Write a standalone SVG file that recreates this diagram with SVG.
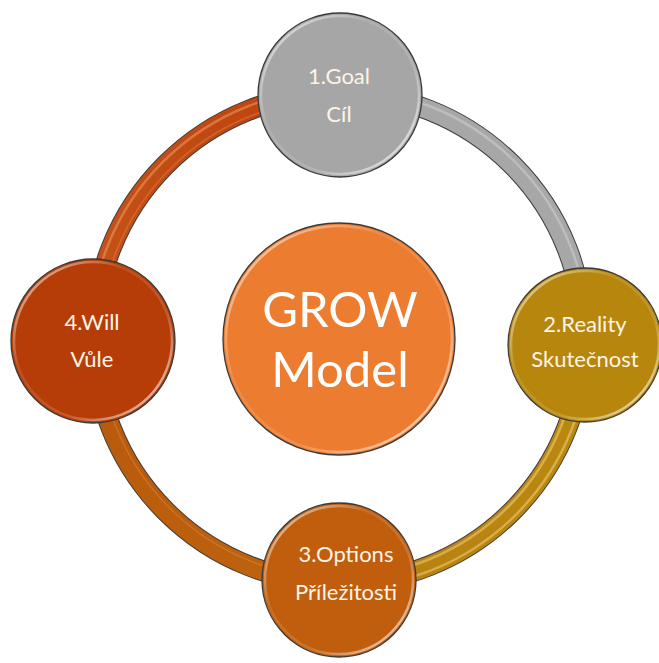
<svg xmlns="http://www.w3.org/2000/svg" width="659" height="663" viewBox="0 0 659 663">
  <style>
    .edge { fill: none; stroke: #3c3c3c; stroke-width: 21; }
    .tube { fill: none; stroke-width: 19; }
    .shine { fill: none; stroke-width: 2.5; stroke-opacity: 0.5; }
    .shine2 { fill: none; stroke-width: 1.5; stroke-opacity: 0.3; }
    .disc { stroke: #3a3a3a; stroke-width: 1.3; }
    .rim { fill: none; stroke: url(#rimGlow); stroke-width: 2.5; }
    .label { font-family: Lato, "Open Sans", "Liberation Sans", sans-serif; font-size: 22px; fill: #FFF4E6; text-anchor: middle; }
    .title { font-family: Lato, "Open Sans", "Liberation Sans", sans-serif; font-size: 49px; fill: #FFFFFF; text-anchor: middle; }
  </style>
  <defs>
    <linearGradient id="rimGlow" x1="0" y1="0" x2="1" y2="1">
      <stop offset="0" stop-color="#ffffff" stop-opacity="0.75"/>
      <stop offset="0.35" stop-color="#ffffff" stop-opacity="0.1"/>
      <stop offset="0.65" stop-color="#ffffff" stop-opacity="0.15"/>
      <stop offset="1" stop-color="#ffffff" stop-opacity="0.85"/>
    </linearGradient>
    <linearGradient id="gWillGoal" gradientUnits="userSpaceOnUse" x1="94" y1="340" x2="340" y2="95">
      <stop offset="0" stop-color="#C5561A"/>
      <stop offset="1" stop-color="#BE420C"/>
    </linearGradient>
    <linearGradient id="gRealOpt" gradientUnits="userSpaceOnUse" x1="585" y1="345" x2="339" y2="580">
      <stop offset="0" stop-color="#BA8A10"/>
      <stop offset="1" stop-color="#B98012"/>
    </linearGradient>
    <linearGradient id="gOptWill" gradientUnits="userSpaceOnUse" x1="339" y1="580" x2="94" y2="340">
      <stop offset="0" stop-color="#BE640E"/>
      <stop offset="1" stop-color="#B8580C"/>
    </linearGradient>
  </defs>

  <!-- ring segments joining the four stages -->
  <g id="connectors">
    <!-- Goal to Reality -->
    <path class="edge" d="M 339 93 A 245 245 0 0 1 584 338"/>
    <path class="tube" stroke="#A7A7A7" d="M 339 93 A 245 245 0 0 1 584 338"/>
    <path class="shine" stroke="#D4D4D4" d="M 339 89 A 249 249 0 0 1 588 338"/>
    <!-- Reality to Options -->
    <path class="edge" d="M 584 338 A 245 245 0 0 1 339 583"/>
    <path class="tube" stroke="url(#gRealOpt)" d="M 584 338 A 245 245 0 0 1 339 583"/>
    <path class="shine" stroke="#F5D880" d="M 589 338 A 250 250 0 0 1 339 588"/>
    <path class="shine" stroke="#F5D880" d="M 578 338 A 239 239 0 0 1 339 577"/>
    <!-- Options to Will -->
    <path class="edge" d="M 339 583 A 245 245 0 0 1 94 338"/>
    <path class="tube" stroke="url(#gOptWill)" d="M 339 583 A 245 245 0 0 1 94 338"/>
    <path class="shine2" stroke="#F2A060" d="M 339 578 A 240 240 0 0 1 99 338"/>
    <!-- Will to Goal -->
    <path class="edge" d="M 94 338 A 245 245 0 0 1 339 93"/>
    <path class="tube" stroke="url(#gWillGoal)" d="M 94 338 A 245 245 0 0 1 339 93"/>
    <path class="shine" stroke="#F5A070" d="M 90 338 A 249 249 0 0 1 339 89"/>
    <path class="shine2" stroke="#F5A070" d="M 100 338 A 239 239 0 0 1 339 99"/>
  </g>

  <g id="center">
    <circle class="disc" cx="339" cy="339" r="116" fill="#EC7C30"/>
    <circle class="rim" cx="339" cy="339" r="113"/>
    <text class="title" x="340" y="327">GROW</text>
    <text class="title" x="340" y="387">Model</text>
  </g>

  <g id="goal">
    <circle class="disc" cx="340" cy="95" r="82" fill="#A6A6A6"/>
    <circle class="rim" cx="340" cy="95" r="79"/>
    <text class="label" x="339" y="84" fill="#F4F4F4">1.Goal</text>
    <text class="label" x="339" y="122">Cíl</text>
  </g>

  <g id="reality">
    <circle class="disc" cx="585" cy="345" r="77" fill="#B7860C"/>
    <circle class="rim" cx="585" cy="345" r="74"/>
    <text class="label" x="585" y="332">2.Reality</text>
    <text class="label" x="585" y="367">Skutečnost</text>
  </g>

  <g id="options">
    <circle class="disc" cx="339" cy="580" r="77" fill="#C05E0E"/>
    <circle class="rim" cx="339" cy="580" r="74"/>
    <text class="label" x="346" y="562">3.Options</text>
    <text class="label" x="346" y="600">Příležitosti</text>
  </g>

  <g id="will">
    <circle class="disc" cx="93" cy="341" r="82" fill="#B63D07"/>
    <circle class="rim" cx="93" cy="341" r="79"/>
    <text class="label" x="92" y="330">4.Will</text>
    <text class="label" x="92" y="367">Vůle</text>
  </g>
</svg>
